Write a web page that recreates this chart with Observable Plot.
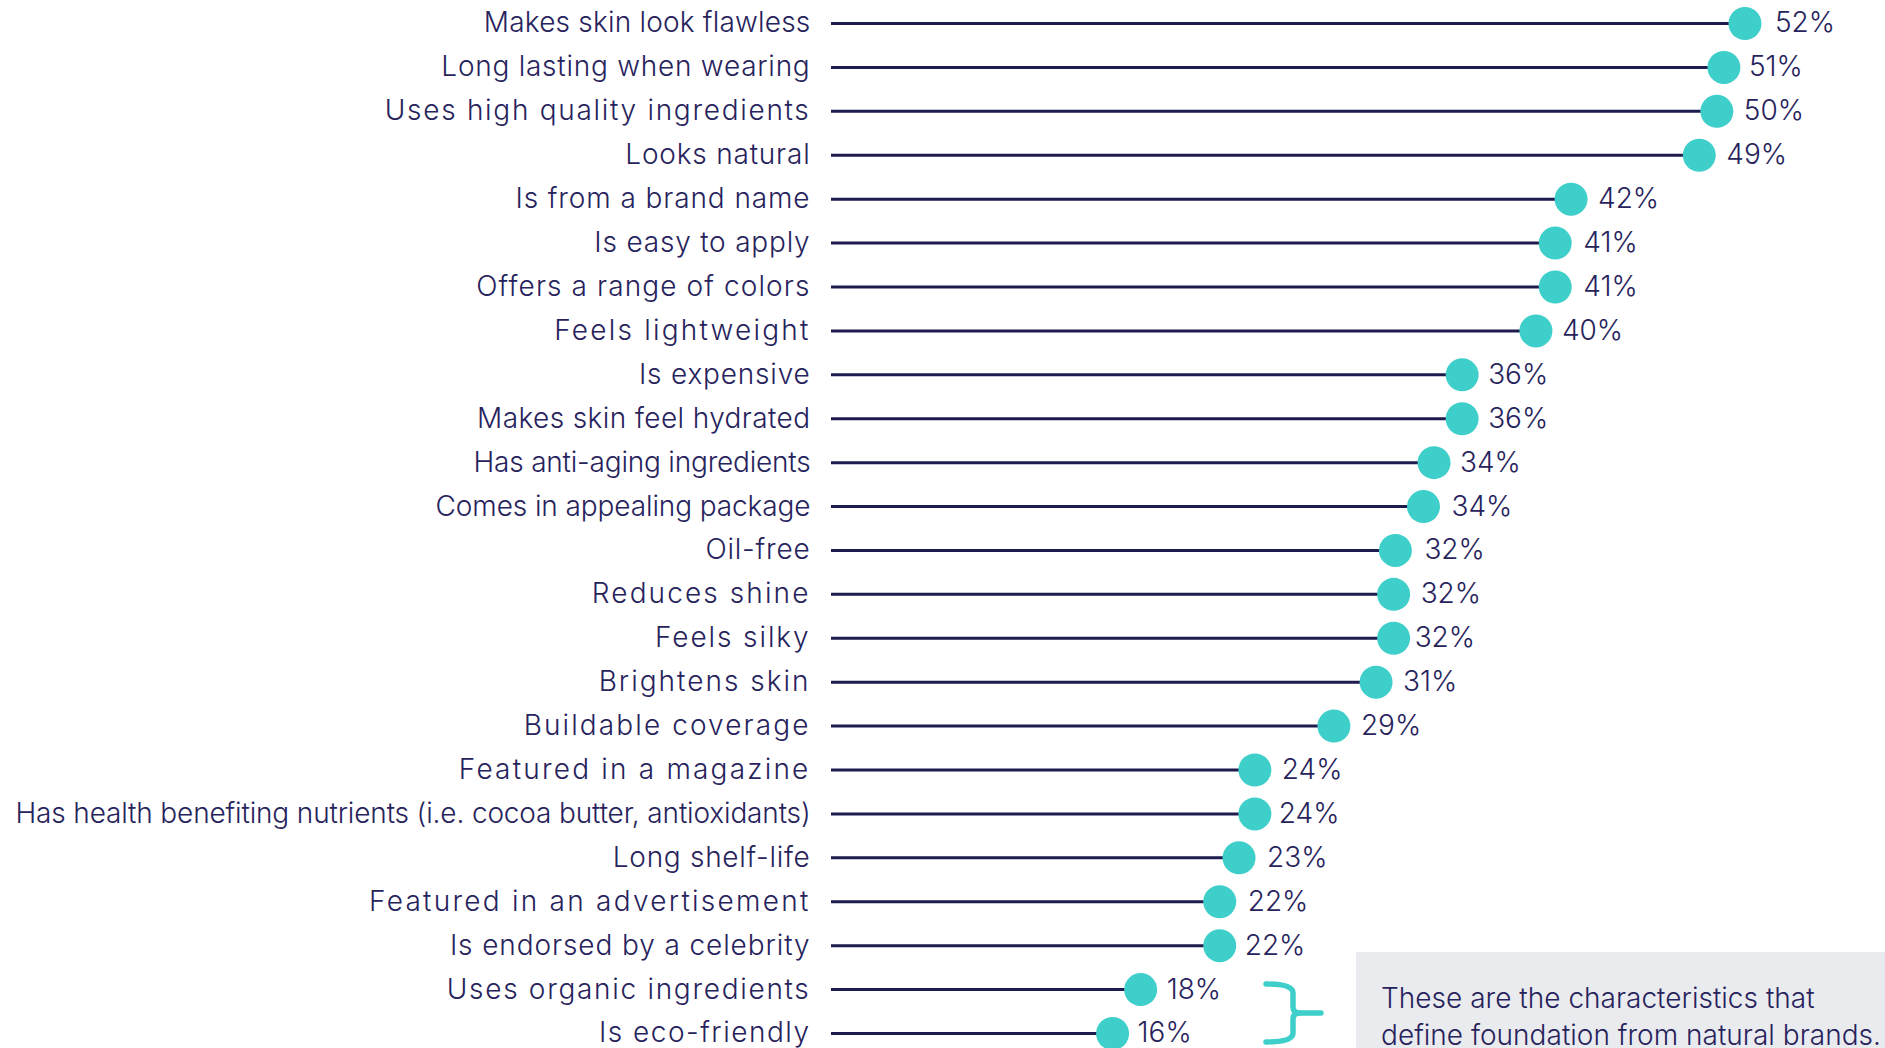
<!DOCTYPE html>
<html>
<head>
<meta charset="utf-8">
<script src="https://cdn.jsdelivr.net/npm/d3@7"></script>
<script src="https://cdn.jsdelivr.net/npm/@observablehq/plot@0.6"></script>
<style>
  html, body { margin: 0; padding: 0; background: #ffffff; }
  #wrap { position: relative; width: 1885px; height: 1048px; overflow: hidden; }
  #note {
    position: absolute; left: 1356px; top: 952px; width: 529px; height: 96px;
    background: #eaebef; box-sizing: border-box; padding: 28px 0 0 25px;
    font-family: Inter, sans-serif; font-weight: 300; font-size: 28px; line-height: 37px;
    letter-spacing: 0.02px; color: #27235c; white-space: nowrap;
  }
  #brace { position: absolute; left: 1260px; top: 980px; }
</style>
</head>
<body>
<div id="wrap">
  <div id="chart"></div>
  <svg id="brace" width="70" height="68"></svg>
  <div id="note"></div>
</div>
<script>
const categories = [
  "Makes skin look flawless",
  "Long lasting when wearing",
  "Uses high quality ingredients",
  "Looks natural",
  "Is from a brand name",
  "Is easy to apply",
  "Offers a range of colors",
  "Feels lightweight",
  "Is expensive",
  "Makes skin feel hydrated",
  "Has anti-aging ingredients",
  "Comes in appealing package",
  "Oil-free",
  "Reduces shine",
  "Feels silky",
  "Brightens skin",
  "Buildable coverage",
  "Featured in a magazine",
  "Has health benefiting nutrients (i.e. cocoa butter, antioxidants)",
  "Long shelf-life",
  "Featured in an advertisement",
  "Is endorsed by a celebrity",
  "Uses organic ingredients",
  "Is eco-friendly"
];
const values = [52.0, 50.8, 50.4, 49.4, 42.1, 41.2, 41.2, 40.1, 35.9, 35.9, 34.3, 33.7,
                32.1, 32.0, 32.0, 31.0, 28.6, 24.1, 24.1, 23.2, 22.1, 22.1, 17.6, 16.0];
const valueLabels = ["52%","51%","50%","49%","42%","41%","41%","40%","36%","36%","34%","34%",
                     "32%","32%","32%","31%","29%","24%","24%","23%","22%","22%","18%","16%"];
const noteLines = ["These are the characteristics that", "define foundation from natural brands."];

// letter-spacing (px) of each category label, as typeset in the reference
const labelTracking = [0.2, 0.75, 1.7, 0.8, 0.9, 0.8, 1.1, 2.2, 0.8, 0.4, -0.2, -0.1,
                       0.8, 2.1, 1.9, 2.0, 2.1, 2.2, -0.15, 0.7, 2.25, 0.9, 1.7, 1.5];
// gap (px) between each dot centre and its value label, as typeset in the reference
const valueLabelGap = [30, 25, 27, 27, 27, 28, 28, 26, 26, 26, 26, 28,
                       29, 27, 21, 27, 27, 27, 24, 28, 28, 25, 26, 25];

const data = categories.map((c, i) => ({cat: c, value: values[i], label: valueLabels[i]}));

const navy = "#1e1b4f";
const teal = "#3ecfca";
const textColor = "#27235c";

const chart = Plot.plot({
  width: 1885,
  height: 1048,
  marginLeft: 831,
  marginRight: 0,
  marginTop: 0,
  marginBottom: 0,
  style: {fontFamily: "Inter, sans-serif", fontWeight: 300, fontSize: "28px", color: textColor, background: "transparent", overflow: "visible"},
  x: {domain: [0, 60], axis: null},
  y: {type: "point", domain: categories, range: [23, 1033], padding: 0, round: false, axis: null},
  marks: [
    Plot.text(data, {y: "cat", frameAnchor: "left", text: "cat", dx: -21, textAnchor: "end", fill: textColor, fontSize: 28, className: "catlabel"}),
    Plot.ruleY(data, {y: "cat", x1: 0, x2: "value", stroke: navy, strokeWidth: 3}),
    Plot.dot(data, {y: "cat", x: "value", r: 16.5, fill: teal, stroke: "none"}),
    Plot.text(data, {y: "cat", x: "value", text: "label", textAnchor: "start", fill: textColor, fontSize: 28, className: "vallabel"})
  ]
});
document.getElementById("chart").appendChild(chart);

d3.select(chart).selectAll("g.catlabel text").each(function(d, i) {
  const idx = typeof d === "number" ? d : i;
  d3.select(this).style("letter-spacing", labelTracking[idx] + "px");
});
d3.select(chart).selectAll("g.vallabel text").each(function(d, i) {
  const idx = typeof d === "number" ? d : i;
  d3.select(this).attr("dx", valueLabelGap[idx]);
});

d3.select("#note").html(noteLines.join("<br>"));

// brace
const brace = d3.select("#brace").append("g")
  .attr("fill", "none").attr("stroke", teal).attr("stroke-width", 5.5)
  .attr("stroke-linejoin", "round").attr("stroke-linecap", "round");
brace.append("path").attr("d", "M6,4 Q33,4 33,13 V27 Q33,33 40,33 H61");
brace.append("path").attr("d", "M40,33 Q33,33 33,39 V53 Q33,62 6,62");
</script>
</body>
</html>
